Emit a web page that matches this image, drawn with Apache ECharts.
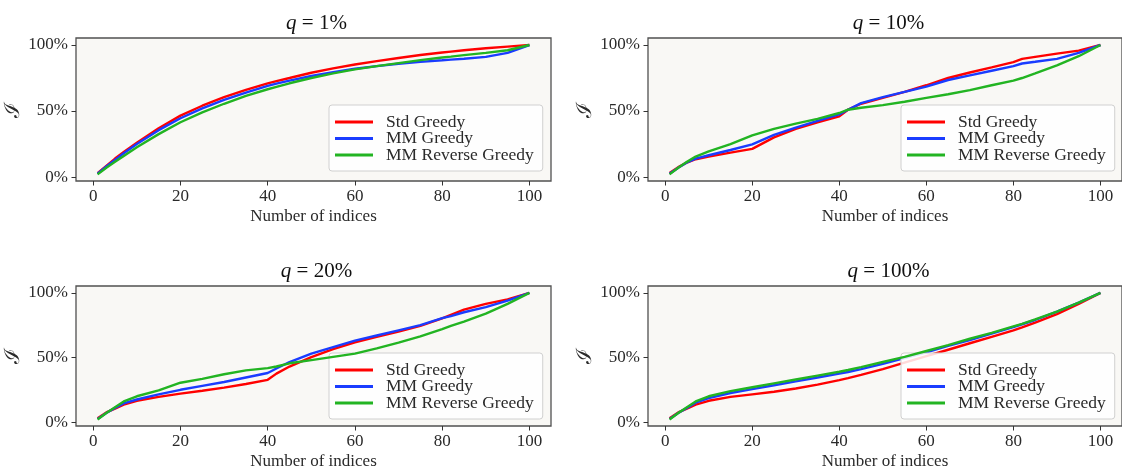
<!DOCTYPE html>
<html>
<head>
<meta charset="utf-8">
<script src="https://cdn.jsdelivr.net/npm/echarts@6/dist/echarts.min.js"></script>
<style>
html,body{margin:0;padding:0;background:#fff;}
#chart{width:1122px;height:471px;}
</style>
</head>
<body>
<div id="chart"></div>
<script>
// ---- data ----
const xs = [1,3,5,7,10,15,20,25,30,35,40,42,45,50,55,60,65,70,75,80,82,85,90,95,100];
const seriesNames = ['Std Greedy','MM Greedy','MM Reverse Greedy'];
const panelTitles = ['1%','10%','20%','100%'];
const xTicks = [0,20,40,60,80,100];
const yTicks = [0,50,100];

// q = 1%
const q1Std = [3,8.5,14,19,26,37,46.5,54,60.5,66,71,72.7,75,79,82.3,85.2,87.8,90.2,92.4,94.3,95,96,97.5,98.8,100];
const q1MM  = [2.5,8,13,18,25,35.5,44.5,52,58.5,64,69,70.7,73,76.5,79.5,82,84,85.8,87.2,88.4,88.9,89.6,91,94,100];
const q1Rev = [2,7,11.5,16,22.5,32.5,41.5,49,55.5,61.5,66.5,68.3,71,75,78.5,81.5,84,86.3,88.5,90.5,91.2,92.3,94,96,100];
// q = 10%
const q10Std = [3,7.5,11,13.5,15.5,18.5,21.3,30,36.5,41.5,46,51,55.5,60,64.5,69.5,75,79.2,83,87,89.5,91,93.5,95.7,100];
const q10MM  = [2.5,7,11,14,16.5,20.5,24.8,32,37.5,42.5,47.5,51,56,60.5,64.5,68.5,73.5,77,80.5,84,86,87.3,89.5,94,100];
const q10Rev = [2,7,11.5,15.5,19.5,25,31.5,36.5,40.5,44,48.5,51,52.5,54.5,57,60,62.7,65.8,69.5,73,75,78.5,84.5,91.5,100];
// q = 20%
const q20Std = [3,7.5,10.5,13.5,16.5,19.5,22,24.3,26.7,29.5,32.7,37.5,43,50.3,56.5,61.8,66,70,74.5,80.3,83,87,91.5,95,100];
const q20MM  = [2.5,7,11,14.5,17.5,21.5,25,28,31,34.5,38,41.5,46.5,53,58,63,67,71,75,80.5,82,85,89,94,100];
const q20Rev = [2,7,11.5,16,20,24.5,30.5,33.5,37,40,41.8,43,45.5,48,50.5,53,57,61.5,66.3,72,74.5,77.8,84,91.5,100];
// q = 100%
const q100Std = [3,7.5,10.5,13.5,16.5,19.5,21.5,23.5,26,29,32.5,34,36.5,41,46,51,56,61,66,71,73.3,77,83.5,91.5,100];
const q100MM  = [2.5,7,11,15,18.5,22.5,25.5,28.5,31.5,34.5,37.5,38.8,41,45,49.5,54,59,63.5,68.5,73.5,75.7,79,85.5,92.5,100];
const q100Rev = [2,7,11.5,16,20,24,27,30,33,36,39,40.3,42.5,46.5,50.5,55,59.5,64.5,69,74,76,79.5,85.5,92.5,100];

const panels = [
  [q1Std, q1MM, q1Rev],
  [q10Std, q10MM, q10Rev],
  [q20Std, q20MM, q20Rev],
  [q100Std, q100MM, q100Rev]
];

// ---- styling / layout ----
const colors = ['#ff0000', '#1a3cff', '#22b422'];
const FONT = '"Liberation Serif", "Times New Roman", serif';
const TXT = '#2a2a2a';
const grids = [
  {left: 76,  top: 38,  width: 475, height: 143},
  {left: 648, top: 38,  width: 475, height: 143},
  {left: 76,  top: 286, width: 475, height: 143},
  {left: 648, top: 286, width: 475, height: 143}
];

const option = {
  animation: false,
  backgroundColor: '#ffffff',
  title: [], grid: [], xAxis: [], yAxis: [], legend: [], series: []
};

grids.forEach((g, i) => {
  option.grid.push({
    left: g.left, top: g.top, width: g.width, height: g.height,
    show: true, backgroundColor: '#f9f8f5', borderColor: '#505050', borderWidth: 1.3,
    containLabel: false
  });
  option.title.push({
    text: '{q|q} = ' + panelTitles[i],
    left: g.left + g.width / 2 - 2,
    top: g.top - 30,
    textAlign: 'center',
    textStyle: {
      fontFamily: FONT, fontSize: 21, fontWeight: 'normal', color: '#111',
      rich: {q: {fontFamily: FONT, fontSize: 21, fontStyle: 'italic', color: '#111'}}
    }
  });
  option.xAxis.push({
    type: 'value', gridIndex: i, min: -3.95, max: 104.95,
    name: 'Number of indices', nameLocation: 'middle', nameGap: 27,
    nameTextStyle: {fontFamily: FONT, fontSize: 17, color: TXT},
    axisLine: {show: false, onZero: false},
    axisTick: {show: true, length: 4.5, customValues: xTicks, lineStyle: {color: '#333', width: 1}},
    axisLabel: {customValues: xTicks, fontFamily: FONT, fontSize: 17, color: TXT, margin: 7},
    splitLine: {show: false}
  });
  option.yAxis.push({
    type: 'value', gridIndex: i, min: -3, max: 105.3,
    name: 'ℐ', nameLocation: 'middle', nameGap: 50, nameRotate: 90,
    nameTextStyle: {fontFamily: '"DejaVu Serif", serif', fontSize: 21, color: TXT},
    axisLine: {show: false, onZero: false},
    axisTick: {show: true, length: 4.5, customValues: yTicks, lineStyle: {color: '#333', width: 1}},
    axisLabel: {customValues: yTicks, fontFamily: FONT, fontSize: 17, color: TXT, margin: 8,
                formatter: v => v + '%'},
    splitLine: {show: false}
  });
  option.legend.push({
    orient: 'vertical',
    left: g.left + g.width - 222,
    top: g.top + 67,
    data: seriesNames,
    icon: 'rect', itemWidth: 38, itemHeight: 3, itemGap: -1.5,
    padding: [8, 9, 7, 6],
    backgroundColor: 'rgba(255,255,255,0.85)',
    borderColor: '#d0d0d0', borderWidth: 1, borderRadius: 3,
    selectedMode: false,
    textStyle: {fontFamily: FONT, fontSize: 17.5, color: TXT, padding: [0, 0, 0, 8]}
  });
  panels[i].forEach((arr, k) => {
    option.series.push({
      name: seriesNames[k], type: 'line', xAxisIndex: i, yAxisIndex: i,
      data: xs.map((x, j) => [x, arr[j]]),
      showSymbol: false, symbol: 'none',
      color: colors[k],
      lineStyle: {color: colors[k], width: 2.4},
      z: 2 + k
    });
  });
});

const chart = echarts.init(document.getElementById('chart'), null, {renderer: 'canvas'});
chart.setOption(option);
</script>
</body>
</html>
